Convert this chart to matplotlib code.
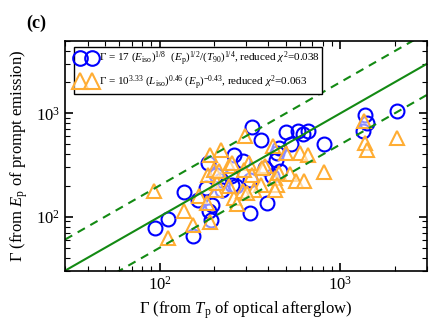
import matplotlib
matplotlib.use("Agg")
import matplotlib.pyplot as plt
import numpy as np

plt.rcParams.update({
    "font.family": "serif",
    "font.serif": ["Liberation Serif", "DejaVu Serif"],
    "mathtext.fontset": "custom",
    "mathtext.rm": "Liberation Serif",
    "mathtext.it": "Liberation Serif:italic",
    "mathtext.bf": "Liberation Serif:bold",
})

# Gamma from T_p (x) and from E_p (y), first relation (circles)
circ_x = [93.8, 111.1, 136.2, 163.6, 153.1, 187.3, 191.3, 185.3, 217.3, 222.0,
          259.6, 291.1, 326.4, 366.0, 252.2, 318.2, 263.0, 318.2, 395.1, 385.2,
          421.1, 466.3, 443.1, 460.3, 532.8, 503.1, 582.4, 659.7, 622.2, 810.9,
          1374, 1404, 1335, 2058, 246.8, 203.9, 179.6, 195.5, 447.1]
circ_y = [77.7, 95.4, 173.4, 144.1, 64.3, 112.8, 92.3, 330.7, 228.5, 182.9,
          398.6, 343.5, 743.6, 554.3, 204.4, 228.5, 196.8, 108.6, 134.8, 295.8,
          245.9, 274.9, 356.7, 458.7, 501.3, 659.6, 677.3, 680.3, 633.5, 504.6,
          971.4, 805.7, 669.9, 1045, 245.9, 255.4, 189.5, 130.9, 413.1]

# second relation (triangles)
tri_x = [93.2, 110.7, 135.7, 152.8, 164.2, 189.6, 189.6, 220.0, 185.3, 199.5,
         203.9, 241.5, 257.3, 269.7, 298.6, 311.4, 325.2, 363.8, 290.0, 423.8,
         437.5, 503.1, 601.2, 663.1, 385.2, 456.2, 529.5, 571.4, 627.0, 808.9,
         447.1, 331.9, 252.2, 292.2, 208.4, 241.5, 1345, 1374, 1404, 2058,
         437.5, 212.6, 305.2, 183.4, 369.3]
tri_y = [176.1, 62.2, 112.8, 83.9, 159.3, 89.3, 398.6, 445.6, 251.5, 285.4,
         182.9, 307.3, 151.7, 133.3, 599.0, 330.7, 255.4, 204.4, 176.1, 479.6,
         236.7, 413.1, 413.1, 398.6, 307.3, 264.7, 260.0, 220.0, 220.0, 271.8,
         204.4, 182.9, 330.7, 285.4, 211.8, 196.8, 836.9, 516.1, 445.6, 577.0,
         182.9, 274.9, 169.5, 135.7, 295.8]

line_x = [30, 3000]
band_factor = 2.0

fig = plt.figure(figsize=(4.43, 3.32), dpi=100)
ax = fig.add_axes([0.1467, 0.1846, 0.8165, 0.6919])

blue = "#0000ff"
orange = "#ffad33"
green = "#138a13"

ax.plot(circ_x, circ_y, "o", ms=10, mfc="none", mec=blue, mew=1.5,
        label=r"$\Gamma$ = 17 ($E_{\rm iso}$)$^{1/8}$  ($E_{\rm p}$)$^{1/2}$/($T_{90}$)$^{1/4}$, reduced $\chi^2$=0.038")
ax.plot(tri_x, tri_y, "^", ms=10.5, mfc=(1, 1, 1, 0.55), mec=orange, mew=1.5,
        label=r"$\Gamma$ = 10$^{3.33}$ ($L_{\rm iso}$)$^{0.46}$ ($E_{\rm p}$)$^{-0.43}$, reduced $\chi^2$=0.063")

lx = np.array(line_x, dtype=float)
ax.plot(lx, lx, "-", color=green, lw=1.5)
ax.plot(lx, lx * band_factor, "--", color=green, lw=1.5, dashes=(4, 3))
ax.plot(lx, lx / band_factor, "--", color=green, lw=1.5, dashes=(4, 3))

ax.set_xscale("log")
ax.set_yscale("log")
ax.set_xlim(30, 3000)
ax.set_ylim(30, 5000)

ax.tick_params(which="both", direction="in", top=True, right=True, labelsize=12)
ax.tick_params(which="major", length=6, width=1.2)
ax.tick_params(which="minor", length=3.6, width=0.8)
for s in ax.spines.values():
    s.set_linewidth(1.2)

ax.set_xlabel(r"$\Gamma$ (from $T_{\rm p}$ of optical afterglow)", fontsize=12)
ax.set_ylabel(r"$\Gamma$ (from $E_{\rm p}$ of prompt emission)", fontsize=12)

leg = ax.legend(loc="upper left", bbox_to_anchor=(0.025, 0.973), numpoints=2,
                fontsize=8, frameon=True, fancybox=False, framealpha=1,
                edgecolor="black", borderpad=0.2, handlelength=1.75,
                handletextpad=0.3, borderaxespad=0, labelspacing=0.45,
                markerscale=1.05)
leg.get_frame().set_linewidth(1.0)

fig.text(0.06, 0.915, "(c)", fontsize=13, fontweight="bold")

fig.savefig("out.png", dpi=100)
